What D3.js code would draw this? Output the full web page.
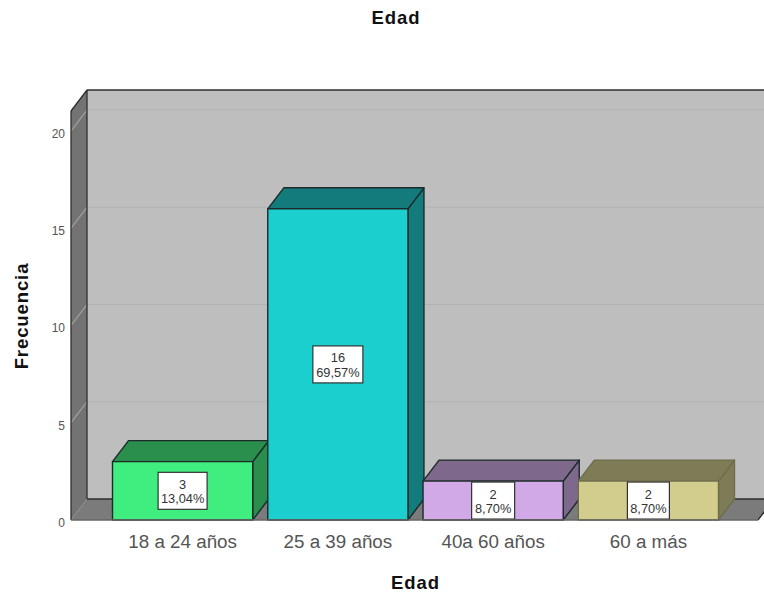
<!DOCTYPE html>
<html>
<head>
<meta charset="utf-8">
<style>
  html, body { margin: 0; padding: 0; background: #fff; }
  svg { display: block; }
  text { font-family: "Liberation Sans", Arial, sans-serif; }
</style>
<script src="https://cdn.jsdelivr.net/npm/d3@7/dist/d3.min.js"></script>
</head>
<body>
<script>
const categories = ["18 a 24 años", "25 a 39 años", "40a 60 años", "60 a más"];
const counts = [3, 16, 2, 2];
const percents = ["13,04%", "69,57%", "8,70%", "8,70%"];
const frontColors = ["#40ee80", "#1bcfcf", "#d0a9e6", "#d2cd8c"];
const shadeColors = ["#2a8f4d", "#137b7b", "#7e698c", "#7e7c56"];
const yTicks = [0, 5, 10, 15, 20];

const width = 764, height = 596;
const depthX = 16, depthY = -21;   // oblique offset of the 3D projection
const outline = "#1c2a2a";

const svg = d3.select("body").append("svg")
  .attr("width", width).attr("height", height)
  .attr("viewBox", `0 0 ${width} ${height}`);

const y = d3.scaleLinear().domain([0, 20]).range([520, 131]);
const x = d3.scaleBand().domain(categories).range([112.5, 718.5])
  .paddingInner(0.097).paddingOuter(0);

const plotLeft = 71, plotRight = 758;
const wallTop = 111;   // front edge of the side wall, slightly above the last tick

const poly = (pts, fill, stroke, sw) => svg.append("polygon")
  .attr("points", pts.map(p => p.join(",")).join(" "))
  .attr("fill", fill)
  .attr("stroke", stroke || "none")
  .attr("stroke-width", sw || 0)
  .attr("stroke-linejoin", "round");

// Back wall, side wall and floor of the chart box
poly([[plotLeft + depthX, y(0) + depthY], [plotLeft + depthX, wallTop + depthY],
      [plotRight + depthX, wallTop + depthY], [plotRight + depthX, y(0) + depthY]], "#bebebe");
poly([[plotLeft, y(0)], [plotLeft + depthX, y(0) + depthY],
      [plotRight + depthX, y(0) + depthY], [plotRight, y(0)]], "#7b7b7b");
poly([[plotLeft, y(0)], [plotLeft, wallTop], [plotLeft + depthX, wallTop + depthY],
      [plotLeft + depthX, y(0) + depthY]], "#737373");

// Grid lines run along the back wall and fold down the side wall
const grid = svg.append("g");
yTicks.filter(t => t > 0).forEach(t => {
  grid.append("line")
    .attr("x1", plotLeft + depthX).attr("x2", plotRight + depthX)
    .attr("y1", y(t) + depthY).attr("y2", y(t) + depthY)
    .attr("stroke", "#b2b2b2").attr("stroke-width", 1.2);
  grid.append("line")
    .attr("x1", plotLeft).attr("x2", plotLeft + depthX)
    .attr("y1", y(t)).attr("y2", y(t) + depthY)
    .attr("stroke", "#a6a6a6").attr("stroke-width", 1.2);
});

// Box edges
const edges = [
  [[plotLeft, y(0)], [plotLeft, wallTop]],
  [[plotLeft, wallTop], [plotLeft + depthX, wallTop + depthY]],
  [[plotLeft + depthX, wallTop + depthY], [plotRight + depthX, wallTop + depthY]],
  [[plotLeft + depthX, wallTop + depthY], [plotLeft + depthX, y(0) + depthY]],
  [[plotLeft + depthX, y(0) + depthY], [plotRight + depthX, y(0) + depthY]],
  [[plotRight, y(0)], [plotRight + depthX, y(0) + depthY]]
];
edges.forEach(([a, b]) => svg.append("line")
  .attr("x1", a[0]).attr("y1", a[1]).attr("x2", b[0]).attr("y2", b[1])
  .attr("stroke", "#2e2e2e").attr("stroke-width", 1.3));

// Bars, each with a front face, a top face and a right face
categories.forEach((c, i) => {
  const x0 = x(c), x1 = x0 + x.bandwidth(), yt = y(counts[i]), yb = y(0);
  const edge = i === 3 ? "#6f6d4c" : outline;
  poly([[x1, yb], [x1, yt], [x1 + depthX, yt + depthY], [x1 + depthX, yb + depthY]],
       shadeColors[i], edge, 1.4);
  poly([[x0, yt], [x0 + depthX, yt + depthY], [x1 + depthX, yt + depthY], [x1, yt]],
       shadeColors[i], edge, 1.4);
  poly([[x0, yb], [x0, yt], [x1, yt], [x1, yb]], frontColors[i], edge, 1.4);
});

// Value labels centred on each bar's front face
const labelWidths = [49, 50, 43, 42];
categories.forEach((c, i) => {
  const cx = x(c) + x.bandwidth() / 2;
  const cy = (y(counts[i]) + y(0)) / 2;
  const g = svg.append("g").attr("transform", `translate(${cx},${cy})`);
  g.append("rect")
    .attr("x", -labelWidths[i] / 2).attr("y", -18.5)
    .attr("width", labelWidths[i]).attr("height", 37)
    .attr("fill", "#fff").attr("stroke", "#333").attr("stroke-width", 1.2);
  g.append("text").attr("text-anchor", "middle").attr("y", -2)
    .attr("font-size", 12.8).attr("fill", "#333").text(counts[i]);
  g.append("text").attr("text-anchor", "middle").attr("y", 12.5)
    .attr("font-size", 12.8).attr("fill", "#333").text(percents[i]);
});

// Axis line along the front of the floor
svg.append("line")
  .attr("x1", plotLeft).attr("x2", plotRight)
  .attr("y1", y(0)).attr("y2", y(0))
  .attr("stroke", "#666").attr("stroke-width", 1.5);

// Axes: only the tick labels are visible
const yAxis = svg.append("g")
  .attr("transform", `translate(${plotLeft},2.5)`)
  .call(d3.axisLeft(y).tickValues(yTicks).tickSize(0).tickPadding(6));
yAxis.select(".domain").remove();
yAxis.selectAll("text").attr("font-size", 12).attr("fill", "#555")
  .style("font-family", '"Liberation Sans", Arial, sans-serif');

const xAxis = svg.append("g")
  .attr("transform", `translate(0,${y(0)})`)
  .call(d3.axisBottom(x).tickSize(0).tickPadding(15));
xAxis.select(".domain").remove();
xAxis.selectAll("text").attr("font-size", 18.8).attr("fill", "#555")
  .style("font-family", '"Liberation Sans", Arial, sans-serif');

// Titles
const titleStyle = sel => sel.attr("text-anchor", "middle")
  .attr("font-size", 18.5).attr("font-weight", "bold")
  .attr("letter-spacing", 0.9).attr("fill", "#111");
svg.append("text").attr("x", 396).attr("y", 24).call(titleStyle).text("Edad");
svg.append("text").attr("x", 415.5).attr("y", 589).call(titleStyle).text("Edad");
svg.append("text").attr("transform", "translate(28,316) rotate(-90)")
  .call(titleStyle).text("Frecuencia");
</script>
</body>
</html>
